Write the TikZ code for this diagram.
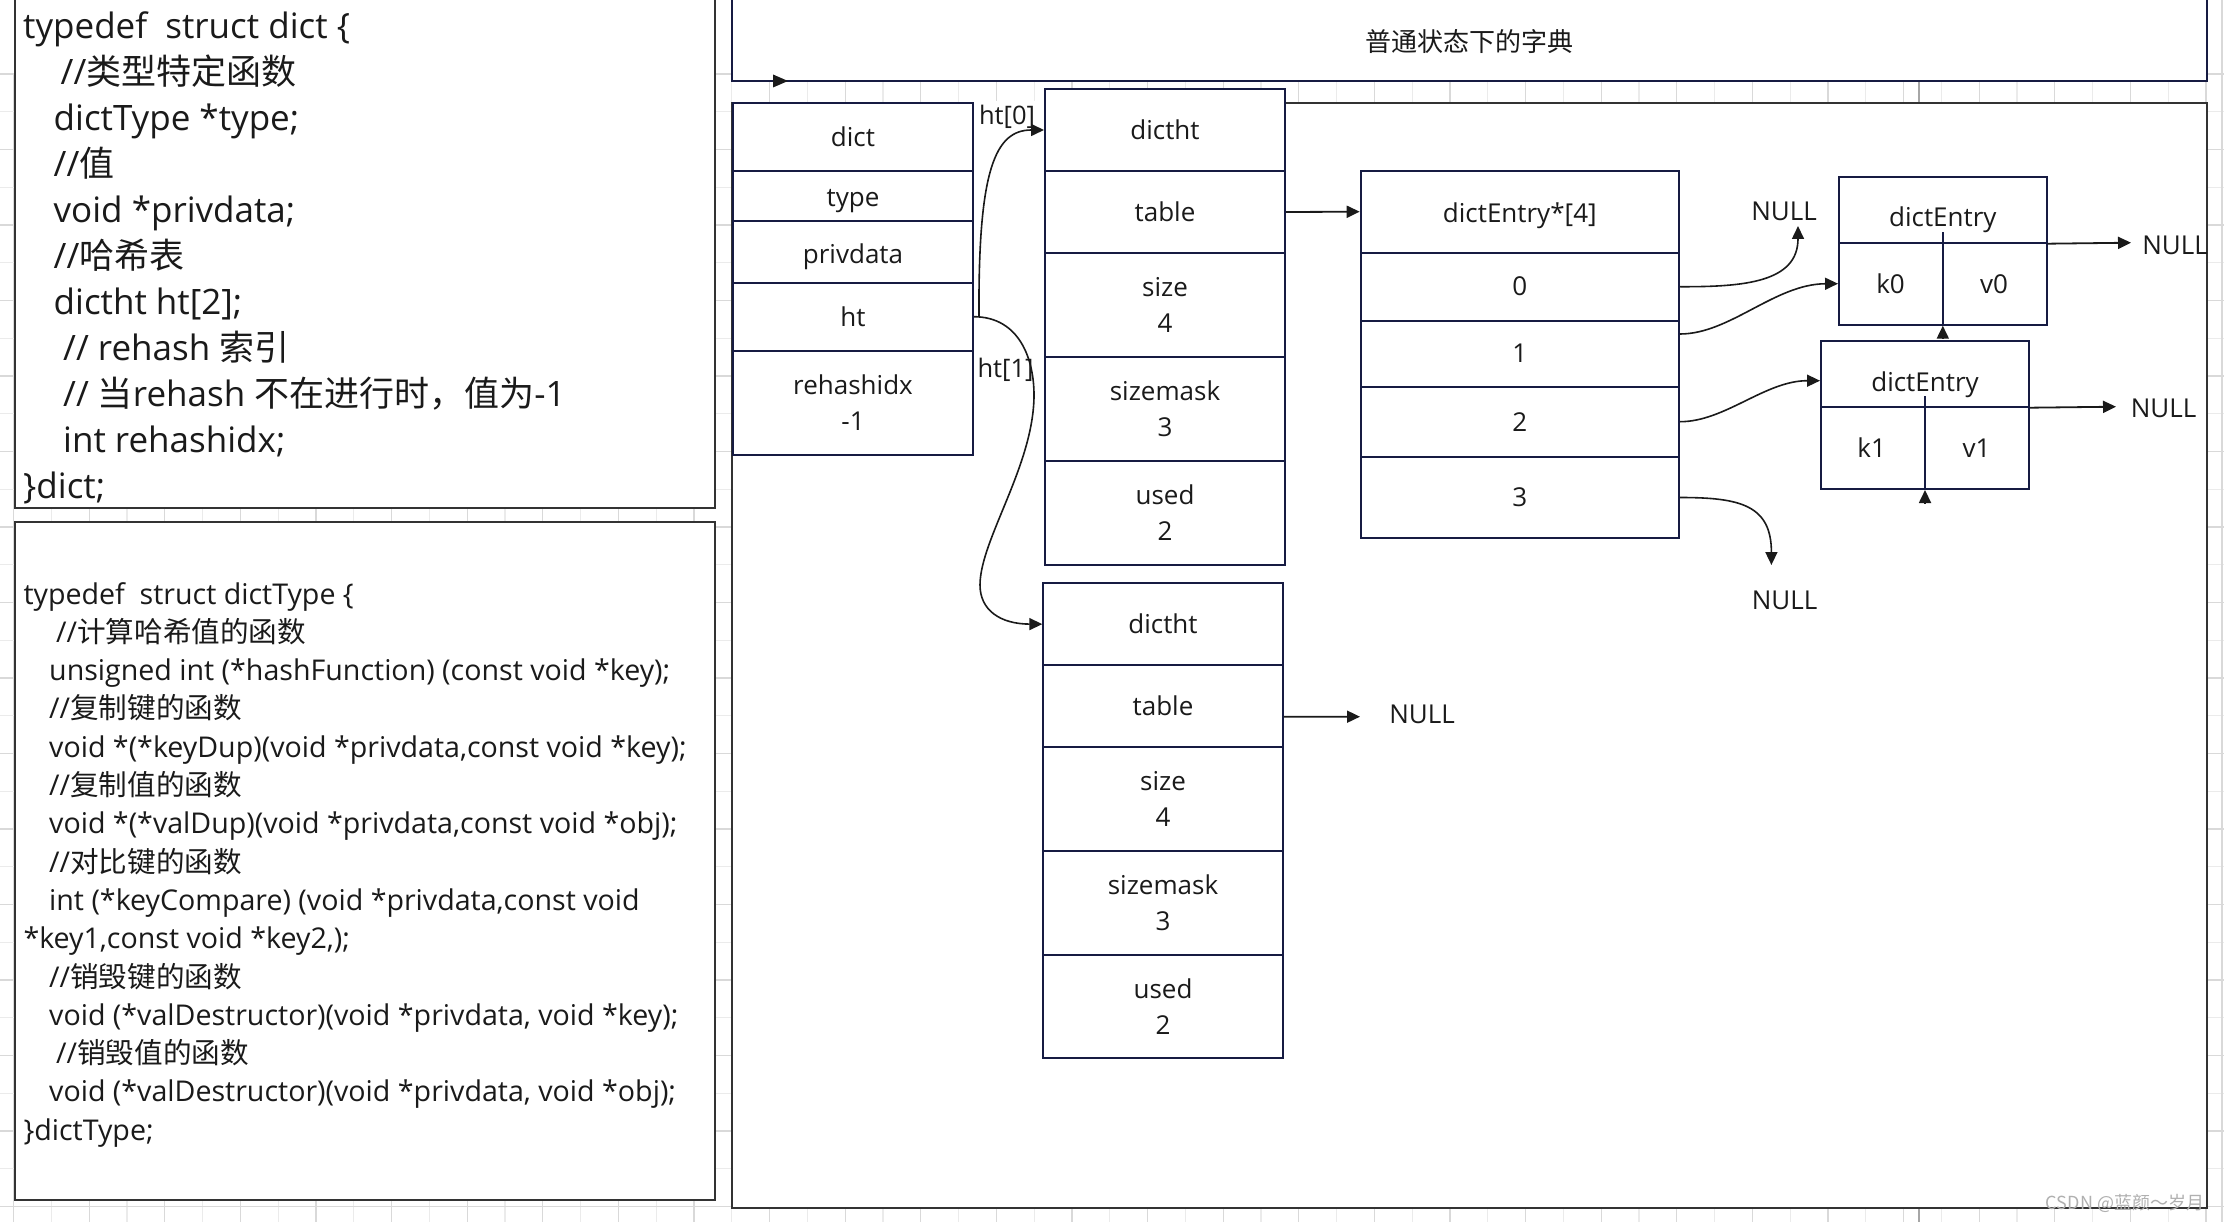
\documentclass[tikz,border=0pt]{standalone}
\usepackage{fontspec}
\setmainfont{Open Sans}
\newfontfamily\cjk{Noto Sans CJK SC}
\usetikzlibrary{arrows.meta,calc}
\definecolor{navy}{HTML}{161B42}
\definecolor{frameg}{HTML}{333333}
\definecolor{gcA}{HTML}{D9D9D9}
\definecolor{gcB}{HTML}{EBEBEB}
\definecolor{ink}{HTML}{1A1A1A}
\definecolor{wm}{HTML}{B0B0B0}
\newcommand\cellat[6]{\node[cellbox, minimum width={(#4-#2)*1pt}, minimum height={(#5-#3)*1pt}] (#1) at ({(#2+#4)/2},{(#3+#5)/2}) {#6};}
\begin{document}
\begin{tikzpicture}[x=1pt,y=-1pt,
  cellbox/.style={draw=navy, line width=2pt, fill=white, inner sep=0pt, align=center, text=ink, font=\fontsize{26}{36}\selectfont},
  lbl/.style={inner sep=0pt, text=ink, font=\fontsize{26}{30}\selectfont},
  codeA/.style={anchor=base west, inner sep=0pt, text=ink, font=\fontsize{35}{46}\selectfont},
  codeB/.style={anchor=base west, inner sep=0pt, text=ink, font=\fontsize{28.6}{38}\selectfont},
  arr/.style={draw=ink, line width=1.8pt, -{Triangle[length=13pt,width=12pt]}},
  curv/.style={draw=ink, line width=1.6pt, -{Triangle[length=13pt,width=12pt]}},
  htl/.style={inner xsep=3pt, inner ysep=4pt, text=ink, font=\fontsize{25.5}{28}\selectfont},
  codebox/.style={draw=frameg, line width=2.5pt, fill=white},
  gridA/.style={draw=gcA, line width=1.2pt},
  gridB/.style={draw=gcB, line width=1.2pt}]
\useasboundingbox (0,0) rectangle (2224,1222);
\fill[white] (0,0) rectangle (2224,1222);
% background grid
\foreach \k in {0,2,...,58} {\draw[gridA] ({13.6+37.8*\k},74) -- ({13.6+37.8*\k},1222);}
\foreach \k in {1,3,...,57} {\draw[gridB] ({13.6+37.8*\k},74) -- ({13.6+37.8*\k},1222);}
\foreach \k in {0,2,...,30} {\draw[gridA] (0,{74+37.75*\k}) -- (2224,{74+37.75*\k});}
\foreach \k in {1,3,...,29} {\draw[gridB] (0,{74+37.75*\k}) -- (2224,{74+37.75*\k});}
\draw[draw=gray!70, line width=1.5pt] (1919,0) -- (1919,1222);
\draw[draw=gcA, line width=2.5pt] (2222,0) -- (2222,1222);
% code boxes
\draw[codebox] (15,-5) rectangle (715,508);
\draw[codebox] (15,522) rectangle (715,1200);
\node[codeA] (a0) at (23,38.5) {typedef\ \ struct dict \{};
\node[codeA] (a1) at (60.5,84.5) {//{\cjk 类型特定函数}};
\node[codeA] (a2) at (53.5,130.5) {dictType *type;};
\node[codeA] (a3) at (53.5,176.5) {//{\cjk 值}};
\node[codeA] (a4) at (53.5,222.5) {void *privdata;};
\node[codeA] (a5) at (53.5,268.5) {//{\cjk 哈希表}};
\node[codeA] (a6) at (53.5,314.5) {dictht ht[2];};
\node[codeA] (a7) at (63,360.5) {// rehash {\cjk 索引}};
\node[codeA] (a8) at (63,406.5) {// {\cjk 当}rehash {\cjk 不在进行时，值为}-1};
\node[codeA] (a9) at (63,452.5) {int rehashidx;};
\node[codeA] (a10) at (23,498.5) {\}dict;};
\node[codeB] (b0) at (23.3,604) {typedef\ \ struct dictType \{};
\node[codeB] (b1) at (56,642.3) {//{\cjk 计算哈希值的函数}};
\node[codeB] (b2) at (49,680.6) {unsigned int (*hashFunction) (const void *key);};
\node[codeB] (b3) at (49,718.9) {//{\cjk 复制键的函数}};
\node[codeB] (b4) at (49,757.2) {void *(*keyDup)(void *privdata,const void *key);};
\node[codeB] (b5) at (49,795.5) {//{\cjk 复制值的函数}};
\node[codeB] (b6) at (49,833.8) {void *(*valDup)(void *privdata,const void *obj);};
\node[codeB] (b7) at (49,872.1) {//{\cjk 对比键的函数}};
\node[codeB] (b8) at (49,910.4) {int (*keyCompare) (void *privdata,const void};
\node[codeB] (b9) at (23.3,948.7) {*key1,const void *key2,);};
\node[codeB] (b10) at (49,987) {//{\cjk 销毁键的函数}};
\node[codeB] (b11) at (49,1025.3) {void (*valDestructor)(void *privdata, void *key);};
\node[codeB] (b12) at (56,1063.6) {//{\cjk 销毁值的函数}};
\node[codeB] (b13) at (49,1101.9) {void (*valDestructor)(void *privdata, void *obj);};
\node[codeB] (b14) at (23.3,1140.2) {\}dictType;};
% title box and frame
\draw[draw=navy, line width=2.2pt, fill=white] (732,-5) rectangle (2206.7,80.7);
\node[inner sep=0pt, text=ink, font=\cjk\fontsize{26}{30}\selectfont] (ttl) at (1469,42) {普通状态下的字典};
\fill[ink] (773,74.5) -- (788,81) -- (773,87.5) -- cycle;
\draw[draw=frameg, line width=2.2pt, fill=white] (732,103) rectangle (2207,1208);
% ht[0] label (white ground over the frame line)
\node[htl, fill=white, minimum width=74pt] (l0) at (1007,117) {ht[0]};
% dict
\cellat{dD}{733}{102.7}{973}{170.7}{dict}
\cellat{dT}{733}{170.7}{973}{220.7}{}
\cellat{dP}{733}{220.7}{973}{282.7}{}
\cellat{ht}{733}{282.7}{973}{350.7}{ht}
\cellat{dR}{733}{350.7}{973}{455}{rehashidx\\-1}
\node[lbl] (dTt) at (853,201) {type};
\node[lbl] (dPt) at (853,257) {privdata};
% dictht 0
\cellat{h0a}{1045}{89.3}{1285}{170.7}{dictht}
\cellat{h0b}{1045}{170.7}{1285}{253.3}{table}
\cellat{h0c}{1045}{253.3}{1285}{357.3}{size\\4}
\cellat{h0d}{1045}{357.3}{1285}{461}{sizemask\\3}
\cellat{h0e}{1045}{461}{1285}{565}{used\\2}
% dictht 1
\cellat{h1a}{1043.3}{583.3}{1282.7}{665}{dictht}
\cellat{h1b}{1043.3}{665}{1282.7}{747.3}{table}
\cellat{h1c}{1043.3}{747.3}{1282.7}{850.7}{size\\4}
\cellat{h1d}{1043.3}{850.7}{1282.7}{955}{sizemask\\3}
\cellat{h1e}{1043.3}{955}{1282.7}{1058.3}{used\\2}
% bucket array
\cellat{eA}{1360.7}{170.7}{1679}{252.7}{}
\node[lbl] (eAt) at (1519.8,216) {dictEntry*[4]};
\cellat{r0}{1360.7}{252.7}{1679}{320.7}{0}
\cellat{r1}{1360.7}{320.7}{1679}{386.7}{1}
\cellat{r2}{1360.7}{386.7}{1679}{456.7}{2}
\cellat{r3}{1360.7}{456.7}{1679}{538.3}{3}
% entries
\cellat{e0h}{1839}{176.7}{2046.6}{242.7}{}
\cellat{e0b}{1839}{242.7}{2046.6}{324.7}{}
\cellat{e1h}{1821}{340.7}{2029}{406.7}{}
\cellat{e1b}{1821}{406.7}{2029}{489}{}
\node[lbl] (e0t) at (1942.8,220) {dictEntry};
\node[lbl] (k0) at (1890.5,284) {k0};
\node[lbl] (v0) at (1994,284) {v0};
\node[lbl] (e1t) at (1925,385) {dictEntry};
\node[lbl] (k1) at (1871.6,448) {k1};
\node[lbl] (v1) at (1976.5,448) {v1};
\draw[draw=navy, line width=2pt] (e0b.south) -- ($(e0b.north)+(0,-9.5)$);
\draw[draw=navy, line width=2pt] (e1b.south) -- ($(e1b.north)+(0,-9.5)$);
\draw[arr] ($(e0b.south)+(0,13)$) -- (e0b.south);
\draw[arr] ($(e1b.south)+(0,13)$) -- (e1b.south);
% NULL labels
\node[lbl] (nA) at (1784,211) {NULL};
\node[lbl] (nB) at (1784.5,600) {NULL};
\node[lbl] (nC) at (2175,245) {NULL};
\node[lbl] (nD) at (2163.5,408) {NULL};
\node[lbl] (nE) at (1422,714) {NULL};
\coordinate (tA) at (1798,226);
\coordinate (tB) at (1771.4,565);
\coordinate (tC) at (2131,242.7);
\coordinate (tD) at (2116,406.7);
\coordinate (tE) at (1360,716.7);
% ht[1] label
\node[htl] (l1) at (1005.5,370) {ht[1]};
% connectors
\draw[arr] (h0b.east) -- (eA.west);
\draw[arr] ($(h1b.east)+(0,10.5)$) -- (tE);
\draw[arr] (e0h.south east) -- (tC);
\draw[arr] (e1h.south east) -- (tD);
\draw[curv] ($(ht.east)+(5,0)$) .. controls (978,170) and (995,130) .. (h0a.west);
\draw[curv] (ht.east) .. controls (1020,317) and (1034,360) .. (1034,395) .. controls (1034,465) and (980,540) .. (980,585) .. controls (980,610) and (1000,624) .. (h1a.west);
\draw[curv] (r0.east) .. controls (1745,287) and (1798,282) .. (tA);
\draw[curv] ($(r1.east)+(0,-19.7)$) .. controls (1730,334) and (1775,284) .. (e0b.west);
\draw[curv] (r2.east) .. controls (1725,421.7) and (1765,380.7) .. ($(e1h.west)+(0,7)$);
\draw[curv] (r3.east) .. controls (1740,497.5) and (1771.4,505) .. (tB);
% watermark
\node[inner sep=0pt, text=wm, font=\cjk\fontsize{18}{20}\selectfont] (wmk) at (2125,1203) {CSDN @蓝颜～岁月};
\end{tikzpicture}
\end{document}
